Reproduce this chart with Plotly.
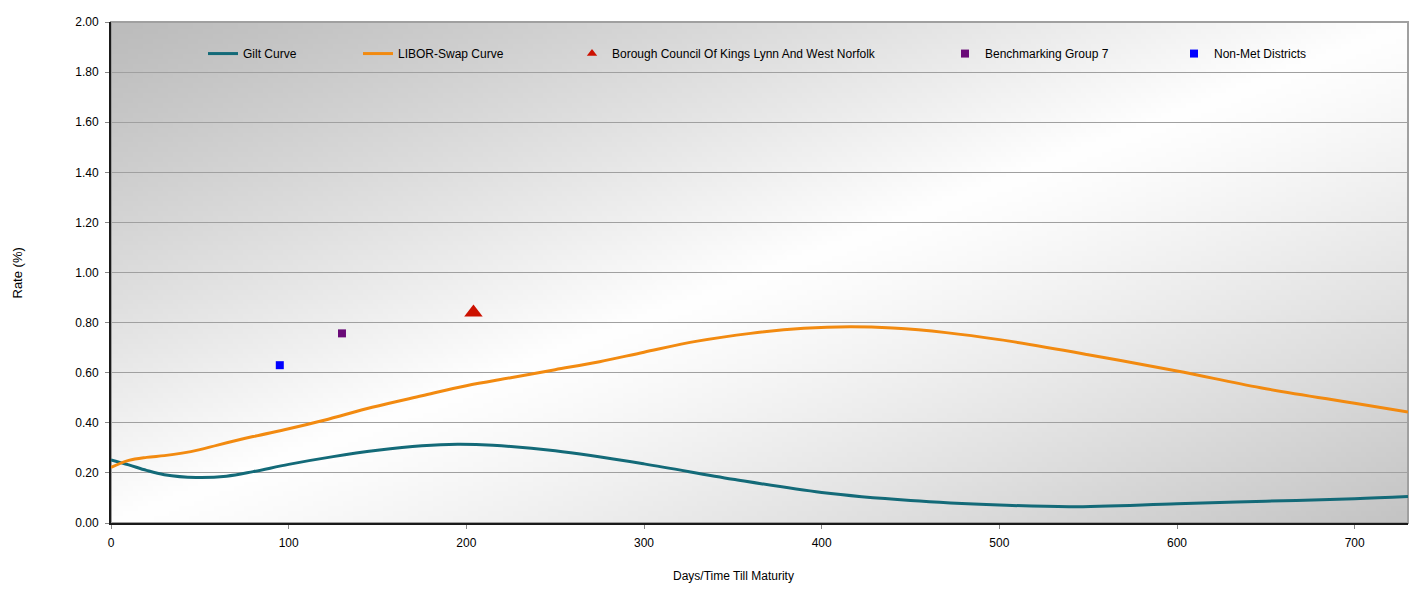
import base64, struct, zlib
import numpy as np
import plotly.graph_objects as go

# ---------------- data ----------------
gilt_days = [0, 10, 20, 30, 48, 65, 80, 100, 125, 150, 175, 195, 215, 250, 300, 350, 400, 450, 500, 540, 600, 650, 700, 730]
gilt_rate = [0.252, 0.232, 0.210, 0.193, 0.182, 0.187, 0.205, 0.234, 0.265, 0.290, 0.308, 0.314, 0.310, 0.288, 0.236, 0.175, 0.122, 0.090, 0.072, 0.065, 0.077, 0.087, 0.097, 0.106]

libor_days = [0, 10, 20, 30, 40, 50, 60, 80, 100, 120, 147, 175, 200, 225, 250, 275, 300, 330, 360, 390, 416, 440, 470, 500, 550, 600, 647, 700, 730]
libor_rate = [0.222, 0.250, 0.262, 0.269, 0.279, 0.293, 0.311, 0.345, 0.376, 0.410, 0.462, 0.508, 0.548, 0.580, 0.612, 0.644, 0.682, 0.726, 0.757, 0.777, 0.783, 0.778, 0.760, 0.732, 0.672, 0.607, 0.540, 0.478, 0.443]

borough_days = [204]
borough_rate = [0.84]
bench_days = [130]
bench_rate = [0.757]
nonmet_days = [95]
nonmet_rate = [0.630]

series_names = ["Gilt Curve", "LIBOR-Swap Curve", "Borough Council Of Kings Lynn And West Norfolk",
                "Benchmarking Group 7", "Non-Met Districts"]
x_ticks = [0, 100, 200, 300, 400, 500, 600, 700]
y_ticks = [0.0, 0.2, 0.4, 0.6, 0.8, 1.0, 1.2, 1.4, 1.6, 1.8, 2.0]
x_title = "Days/Time Till Maturity"
y_title = "Rate (%)"

# ---------------- background gradient image (styling only) ----------------
def make_png_gray(w, h, arr):
    raw = b"".join(b"\x00" + bytes(row) for row in arr)
    def chunk(tag, data):
        c = struct.pack(">I", len(data)) + tag + data
        return c + struct.pack(">I", zlib.crc32(tag + data) & 0xffffffff)
    return (b"\x89PNG\r\n\x1a\n"
            + chunk(b"IHDR", struct.pack(">IIBBBBB", w, h, 8, 0, 0, 0, 0))
            + chunk(b"IDAT", zlib.compress(raw, 9))
            + chunk(b"IEND", b""))

W, H = 260, 102
s = np.linspace(0, 1, W)[None, :]
t = np.linspace(0, 1, H)[:, None]
u = (s + t) / 2.0
g = np.where(u < 0.5,
             188 + (255 - 188) * (u / 0.5) ** 1.1,
             255 - (255 - 196) * ((u - 0.5) / 0.5) ** 1.2)
g = np.clip(g, 0, 255).astype(np.uint8)
bg_uri = "data:image/png;base64," + base64.b64encode(make_png_gray(W, H, g.tolist())).decode()

FONT = "Liberation Sans, Arial, sans-serif"
RED, PURPLE, BLUE = "#cc1100", "#6a0a78", "#0000ff"

fig = go.Figure()
fig.add_trace(go.Scatter(x=gilt_days, y=gilt_rate, mode="lines", name=series_names[0],
                         line=dict(color="#136a78", width=3, shape="spline", smoothing=1.0),
                         legend="legend"))
fig.add_trace(go.Scatter(x=libor_days, y=libor_rate, mode="lines", name=series_names[1],
                         line=dict(color="#f28a10", width=3, shape="spline", smoothing=1.0),
                         legend="legend2"))
fig.add_trace(go.Scatter(x=borough_days, y=borough_rate, mode="markers", name=series_names[2],
                         marker=dict(symbol="triangle-up", size=16, color=RED),
                         showlegend=False))
# legend entry for the triangle (smaller symbol, as in the reference legend)
fig.add_trace(go.Scatter(x=[None], y=[None], mode="markers", name=series_names[2],
                         marker=dict(symbol="triangle-up", size=9, color=RED),
                         legend="legend3", hoverinfo="skip"))
fig.add_trace(go.Scatter(x=bench_days, y=bench_rate, mode="markers", name=series_names[3],
                         marker=dict(symbol="square", size=8, color=PURPLE),
                         legend="legend4"))
fig.add_trace(go.Scatter(x=nonmet_days, y=nonmet_rate, mode="markers", name=series_names[4],
                         marker=dict(symbol="square", size=8, color=BLUE),
                         legend="legend5"))

def leg(xp):
    return dict(x=xp, y=0.937, xanchor="left", yanchor="middle", orientation="h",
                bgcolor="rgba(0,0,0,0)", font=dict(family=FONT, size=12, color="#000"))

# page body has an 8px margin; plot area should sit at x 111..1408, y 15..523 on screen
OFF = 8
plot_l, plot_r = 111, 1408
pw = plot_r - plot_l
def px(p):
    return (p - plot_l) / pw

fig.update_layout(
    width=1410, height=582,
    margin=dict(l=plot_l - OFF, r=10, t=15 - OFF, b=67),
    paper_bgcolor="white",
    plot_bgcolor="rgba(0,0,0,0)",
    font=dict(family=FONT, size=12, color="#000"),
    showlegend=True,
    legend=leg(px(203)),
    legend2=leg(px(358)),
    legend3=leg(px(572)),
    legend4=leg(px(945)),
    legend5=leg(px(1174)),
    xaxis=dict(range=[0, 730], tickvals=x_ticks, ticks="outside", ticklen=4, tickcolor="#888",
               showgrid=False, showline=True, linecolor="#1a1a1a", linewidth=2,
               zeroline=False, tickfont=dict(size=12), ticklabelstandoff=4),
    yaxis=dict(range=[0, 2.0], tickvals=y_ticks, tickformat=".2f", ticks="outside", ticklen=4,
               tickcolor="#888", showgrid=True, gridcolor="#a0a0a0", gridwidth=1,
               showline=True, linecolor="#1a1a1a", linewidth=2, zeroline=False,
               tickfont=dict(size=12), ticklabelstandoff=4),
    images=[dict(source=bg_uri, xref="paper", yref="paper", x=0, y=1, sizex=1, sizey=1,
                 xanchor="left", yanchor="top", sizing="stretch", layer="below")],
    shapes=[dict(type="rect", xref="paper", yref="paper", x0=0, x1=1, y0=0, y1=1,
                 line=dict(color="#a0a0a0", width=2), layer="below")],
    annotations=[
        dict(text=x_title, xref="paper", yref="paper", x=px(733), y=-0.105,
             xanchor="center", yanchor="middle", showarrow=False,
             font=dict(family=FONT, size=12, color="#000")),
        dict(text=y_title, xref="paper", yref="paper", x=(18 - plot_l) / pw, y=0.498,
             xanchor="center", yanchor="middle", showarrow=False, textangle=-90,
             font=dict(family=FONT, size=13, color="#000")),
    ],
)

fig.write_html("out.html")
